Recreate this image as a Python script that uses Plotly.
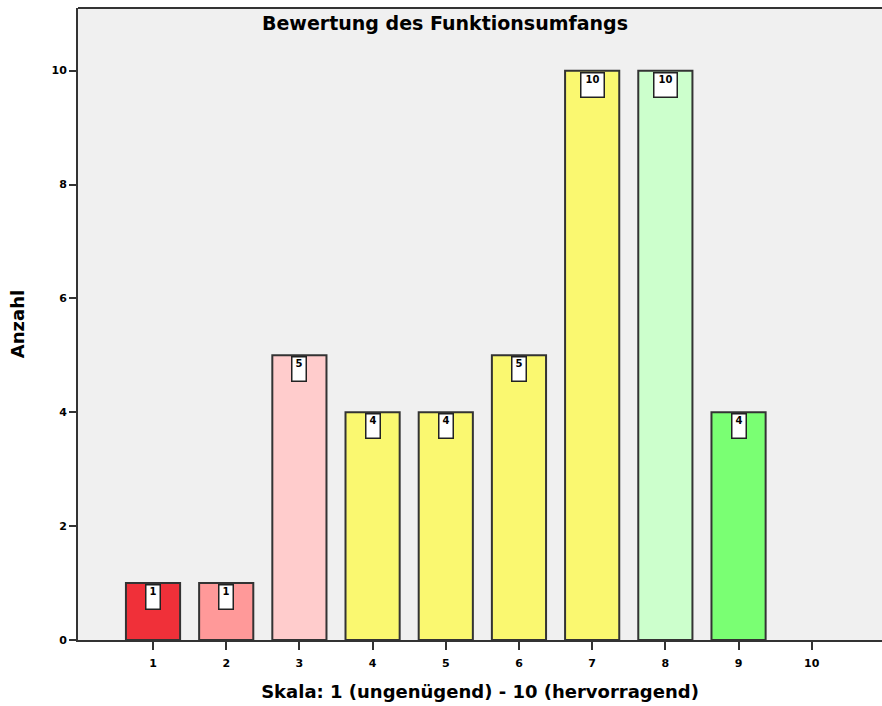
import plotly.graph_objects as go

categories = ["1", "2", "3", "4", "5", "6", "7", "8", "9", "10"]
counts = [1, 1, 5, 4, 4, 5, 10, 10, 4, 0]
bar_colors = ["#F03039", "#FF9999", "#FFCCCC", "#FAF870", "#FAF870",
              "#FAF870", "#FAF870", "#CCFFCC", "#7AFF73", "#FAF870"]
y_ticks = [0, 2, 4, 6, 8, 10]

xs = list(range(1, len(categories) + 1))
shown = [i for i, v in enumerate(counts) if v > 0]

FONT = "DejaVu Sans, Liberation Sans, Arial"

fig = go.Figure()
fig.add_trace(go.Bar(
    x=[xs[i] for i in shown], y=[counts[i] for i in shown], width=0.74,
    marker=dict(color=[bar_colors[i] for i in shown], line=dict(color="#333333", width=2)),
    hoverinfo="skip",
))

for i in shown:
    v = counts[i]
    fig.add_annotation(
        x=xs[i], y=v, xref="x", yref="y", yanchor="top", yshift=-1,
        text=str(v), showarrow=False,
        font=dict(family=FONT, size=10, color="black", weight="bold"),
        bgcolor="white", bordercolor="#222222", borderwidth=1.5,
        width=13 if v < 10 else 22, height=23, valign="top", borderpad=0,
    )

# top frame line of the plot area
fig.add_shape(type="line", xref="paper", yref="paper", x0=0, x1=1, y0=1, y1=1,
              line=dict(color="#333333", width=2))

fig.update_layout(
    width=882, height=706,
    margin=dict(l=78, r=0, t=8, b=66),
    paper_bgcolor="white", plot_bgcolor="#F0F0F0",
    showlegend=False,
    title=dict(text="Bewertung des Funktionsumfangs", x=445 / 882, xanchor="center",
               y=1 - 23 / 706, yanchor="middle", xref="container", yref="container",
               font=dict(family=FONT, size=19, color="black", weight="bold")),
    font=dict(family=FONT, color="black"),
)
fig.update_xaxes(
    range=[-0.025, 10.96], tickmode="array", tickvals=xs, ticktext=categories,
    ticks="outside", ticklen=8, tickwidth=1.5, tickcolor="#333333",
    showline=True, linecolor="#333333", linewidth=2, mirror=False,
    showgrid=False, zeroline=False, ticklabelstandoff=4,
    tickfont=dict(size=11, weight="bold"),
    title=dict(text="Skala: 1 (ungenügend) - 10 (hervorragend)",
               font=dict(size=18, weight="bold"), standoff=16),
)
fig.update_yaxes(
    range=[0, 11.1], tickmode="array", tickvals=y_ticks,
    ticks="outside", ticklen=7, tickwidth=1.5, tickcolor="#333333",
    showline=True, linecolor="#333333", linewidth=2, mirror=False,
    showgrid=False, zeroline=False,
    tickfont=dict(size=11, weight="bold"),
    title=dict(text="Anzahl", font=dict(size=18, weight="bold"), standoff=22),
)

fig.write_html("out.html",
               config={"displayModeBar": False},
               post_script="document.body.style.margin='0';document.body.style.overflow='hidden';")
